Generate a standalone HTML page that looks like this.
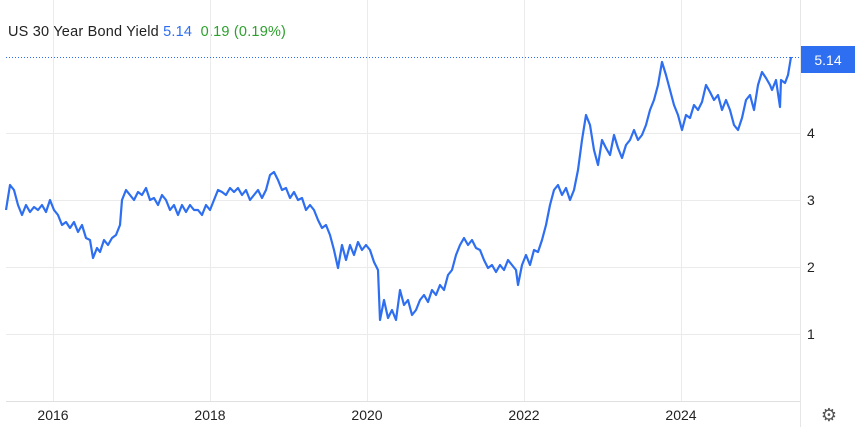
<!DOCTYPE html>
<html><head><style>
body{margin:0;background:#fff;font-family:"Liberation Sans",sans-serif;}
.wrap{position:relative;width:866px;height:427px;overflow:hidden}
.hdr{position:absolute;left:8px;top:24px;font-size:14.5px;color:#222;letter-spacing:0.2px}
</style></head><body><div class="wrap">
<div class="hdr">US 30 Year Bond Yield <span style="color:#2e6ef0">5.14</span> &nbsp;<span style="color:#2ca02c">0.19 (0.19%)</span></div>
<svg width="866" height="427" style="position:absolute;left:0;top:0">
<g stroke="#ebebeb" stroke-width="1">
<line x1="53.5" y1="0" x2="53.5" y2="401"/><line x1="210.5" y1="0" x2="210.5" y2="401"/>
<line x1="367.5" y1="0" x2="367.5" y2="401"/><line x1="524.5" y1="0" x2="524.5" y2="401"/>
<line x1="681.5" y1="0" x2="681.5" y2="401"/>
<line x1="6" y1="334.5" x2="800" y2="334.5"/><line x1="6" y1="267.5" x2="800" y2="267.5"/>
<line x1="6" y1="200.5" x2="800" y2="200.5"/><line x1="6" y1="133.5" x2="800" y2="133.5"/>
<line x1="6" y1="401.5" x2="800" y2="401.5" stroke="#e0e0e0"/>
<line x1="800.5" y1="0" x2="800.5" y2="427" stroke="#e6e6e6"/>
</g>
<line x1="6" y1="57.5" x2="800" y2="57.5" stroke="#2e6ef0" stroke-dasharray="1,2"/>
<polyline fill="none" stroke="#2e6ef0" stroke-width="2.2" stroke-linejoin="round" points="6,210 10,185 14,190 18,205 22,215 26,205 30,212 34,207 38,210 42,205 46,212 50,200 54,210 58,215 62,225 66,222 70,228 74,222 78,232 82,225 86,238 90,240 93,258 97,248 100,252 104,240 108,245 112,238 116,235 120,225 122,200 126,190 130,195 134,200 138,192 142,195 146,188 150,200 154,198 158,205 162,195 166,200 170,210 174,205 178,215 182,205 186,212 190,205 194,210 198,210 202,215 206,205 210,210 214,200 218,190 222,192 226,195 230,188 234,192 238,188 242,195 246,190 250,200 254,195 258,190 262,198 266,190 270,175 274,172 278,180 282,190 286,188 290,198 294,192 298,200 302,198 306,210 310,205 314,210 318,220 322,228 326,225 330,235 334,250 338,268 342,245 346,260 350,245 354,255 358,242 362,250 366,245 370,250 374,262 378,270 380,320 384,300 388,318 392,310 396,320 400,290 404,305 408,300 412,315 416,310 420,300 424,295 428,302 432,290 436,295 440,285 444,290 448,275 452,270 456,255 460,245 464,238 468,245 472,240 476,248 480,250 484,260 488,268 492,265 496,272 500,265 504,270 508,260 512,265 516,270 518,285 522,265 526,255 530,265 534,250 538,252 542,240 546,225 550,205 554,190 558,185 562,195 566,188 570,200 574,190 578,170 582,140 586,115 590,125 594,150 598,165 602,140 606,148 610,155 614,135 618,148 622,158 626,145 630,140 634,130 638,140 642,135 646,125 650,110 654,100 658,85 662,62 666,75 670,90 674,105 678,115 682,130 686,115 690,118 694,105 698,110 702,102 706,85 710,92 714,100 718,95 722,110 726,100 730,110 734,125 738,130 742,118 746,100 750,95 754,110 758,85 762,72 766,78 770,85 772,90 776,80 780,107 781,80 785,83 788,75 791,57"/>
<rect x="801" y="46" width="54" height="27" fill="#2e6ef0"/>
<g font-family="Liberation Sans,sans-serif" font-size="14" fill="#222">
<text x="828" y="65" fill="#fff" text-anchor="middle">5.14</text>
<text x="807" y="138">4</text><text x="807" y="205">3</text><text x="807" y="272">2</text><text x="807" y="339">1</text>
<text x="53" y="420" text-anchor="middle">2016</text><text x="210" y="420" text-anchor="middle">2018</text>
<text x="367" y="420" text-anchor="middle">2020</text><text x="524" y="420" text-anchor="middle">2022</text>
<text x="681" y="420" text-anchor="middle">2024</text>
</g>
<text x="829" y="421" font-size="18" fill="#555" text-anchor="middle">⚙</text>
</svg></div></body></html>
